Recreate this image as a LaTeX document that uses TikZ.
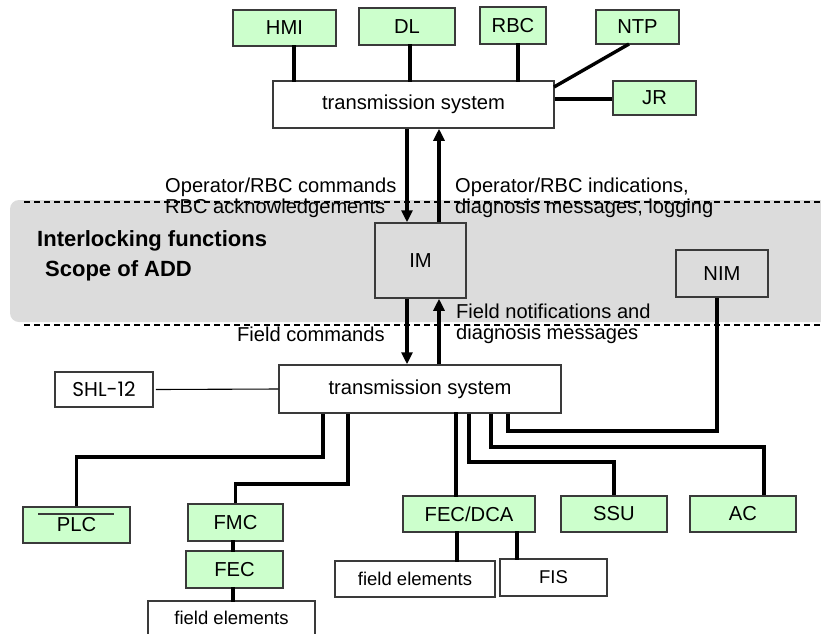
\documentclass[tikz,border=0pt]{standalone}
\usepackage{fontspec}
\setmainfont{Liberation Sans}
\newfontfamily\geofont{Poppins}
\usetikzlibrary{arrows.meta}
\definecolor{boxgreen}{HTML}{CCFFCC}
\definecolor{bandgray}{HTML}{DCDCDC}
\definecolor{edgegray}{HTML}{3A3A3A}
\begin{document}
\begin{tikzpicture}[x=1pt,y=-1pt,
  base/.style={draw=edgegray,line width=1.5pt,inner sep=0pt,
    font=\fontsize{20.2}{22}\selectfont},
  gbox/.style={base,fill=boxgreen},
  wbox/.style={base,fill=white},
  smallbox/.style={base,fill=white,font=\fontsize{18.5}{20}\selectfont},
  conn/.style={line width=3.4pt,line cap=rect},
  flow/.style={line width=3.4pt,-{Triangle[length=12pt,width=11pt]}},
  lbl/.style={inner sep=0pt,align=left,font=\fontsize{20.1}{21}\selectfont},
  bold/.style={inner sep=0pt,font=\fontsize{22}{24}\selectfont\bfseries}]
\useasboundingbox (0,0) rectangle (821,633);

% interlocking band
\fill[bandgray,rounded corners=9pt] (10,200) rectangle (840,322);
\draw[line width=1.5pt,dash pattern=on 6pt off 4pt] (24,202) -- (821,202);
\draw[line width=1.5pt,dash pattern=on 6pt off 4pt] (24,325) -- (821,325);

% upper level
\node[gbox,minimum width=103,minimum height=36] (hmi) at (284.5,28) {HMI};
\node[gbox,minimum width=96,minimum height=37] (dl) at (407,26.5) {DL};
\node[gbox,minimum width=66,minimum height=37] (rbc) at (513,25.5) {RBC};
\node[gbox,minimum width=83,minimum height=34] (ntp) at (637.5,27) {NTP};
\node[gbox,minimum width=83,minimum height=34] (jr) at (654.5,98) {JR};
\node[wbox,minimum width=281,minimum height=47] (ts1) at (413.5,104.5) {transmission system};

\coordinate (xh) at (294,0);
\coordinate (xd) at (410,0);
\coordinate (xr) at (518,0);
\draw[conn] (hmi.south -| xh) -- (ts1.north -| xh);
\draw[conn] (dl.south -| xd) -- (ts1.north -| xd);
\draw[conn] (rbc.south -| xr) -- (ts1.north -| xr);
\coordinate (ntpfoot) at (629,44);
\coordinate (tsne) at (554,87);
\draw[conn,line cap=butt] (ntpfoot) -- (tsne);
\coordinate (yjr) at (0,99);
\draw[conn,line cap=butt] (ts1.east |- yjr) -- (jr.west |- yjr);

% interlocking module
\node[base,fill=bandgray,minimum width=91,minimum height=75] (im) at (420.5,260.5) {IM};
\node[base,fill=bandgray,minimum width=92,minimum height=47] (nim) at (722,273.5) {NIM};

\coordinate (xdn) at (407,0);
\coordinate (xup) at (439,0);
\draw[flow] (ts1.south -| xdn) -- (im.north -| xdn);
\draw[flow] (im.north -| xup) -- (ts1.south -| xup);

\node[lbl,anchor=west] (opcmd) at (165,197.5) {Operator/RBC commands\\RBC acknowledgements};
\node[lbl,anchor=west] (opind) at (455,197.5) {Operator/RBC indications,\\diagnosis messages, logging};
\node[bold,anchor=west] (ilf) at (37,241) {Interlocking functions};
\node[bold,anchor=west] (scope) at (45,271) {Scope of ADD};

% lower level
\node[wbox,minimum width=282,minimum height=48] (ts2) at (420,389) {transmission system};
\draw[flow] (im.south -| xdn) -- (ts2.north -| xdn);
\draw[flow] (ts2.north -| xup) -- (im.south -| xup);

\node[lbl,anchor=west] (fcmd) at (237,334) {Field commands};
\node[lbl,anchor=west] (fnot) at (456,323.5) {Field notifications and\\diagnosis messages};

\node[base,fill=white,minimum width=98,minimum height=35,font=\geofont\fontsize{20}{22}\selectfont] (shl) at (104,389.5) {SHL-12};
\draw[line width=1.1pt] (shl.east) ++(2,0) -- (ts2.west);

\node[gbox,minimum width=107,minimum height=36] (plc) at (76.5,525) {\raisebox{-2pt}{PLC}};
\coordinate (plcbarl) at (38,514);
\coordinate (plcbarr) at (114,514);
\draw[line width=1.3pt,edgegray] (plcbarl) -- (plcbarr);
\node[gbox,minimum width=95,minimum height=37] (fmc) at (235.5,522.5) {FMC};
\node[gbox,minimum width=97,minimum height=37] (fec) at (234.5,569.5) {FEC};
\node[smallbox,minimum width=167,minimum height=34] (fe1) at (231.5,618) {field elements};

\node[gbox,minimum width=132,minimum height=36] (fecdca) at (469,514) {FEC/DCA};
\node[gbox,minimum width=106,minimum height=36] (ssu) at (614,514) {SSU};
\node[gbox,minimum width=106,minimum height=36] (ac) at (743,514) {AC};
\node[smallbox,minimum width=160,minimum height=36] (fe2) at (415,579) {field elements};
\node[smallbox,minimum width=107,minimum height=37] (fis) at (553.5,577.5) {FIS};

% field bus branches
\coordinate (xplc) at (323,0);
\coordinate (yplc) at (0,457);
\draw[conn,line cap=butt] (ts2.south -| xplc) |- (yplc -| plc.north) -- (plc.north);
\coordinate (xfmc) at (348,0);
\coordinate (yfmc) at (0,484);
\draw[conn,line cap=butt] (ts2.south -| xfmc) |- (yfmc -| fmc.north) -- (fmc.north);
\coordinate (xfc) at (233,0);
\draw[conn] (fmc.south -| xfc) -- (fec.north -| xfc);
\draw[conn] (fec.south -| xfc) -- (fe1.north -| xfc);

\coordinate (xdca) at (456,0);
\draw[conn] (ts2.south -| xdca) -- (fecdca.north -| xdca);
\coordinate (xssu) at (469,0);
\coordinate (yssu) at (0,462);
\draw[conn,line cap=butt] (ts2.south -| xssu) |- (yssu -| ssu.north) -- (ssu.north);
\coordinate (xac) at (491,0);
\coordinate (yac) at (0,447);
\coordinate (xacin) at (764,0);
\draw[conn,line cap=butt] (ts2.south -| xac) |- (yac -| xacin) -- (ac.north -| xacin);
\coordinate (xnim) at (508,0);
\coordinate (ynim) at (0,431);
\coordinate (xnimin) at (717,0);
\draw[conn,line cap=butt] (ts2.south -| xnim) |- (ynim -| xnimin) -- (nim.south -| xnimin);

\coordinate (xfe2) at (457,0);
\coordinate (xfis) at (517,0);
\draw[conn] (fecdca.south -| xfe2) -- (fe2.north -| xfe2);
\draw[conn] (fecdca.south -| xfis) -- (fis.north -| xfis);
\end{tikzpicture}
\end{document}
